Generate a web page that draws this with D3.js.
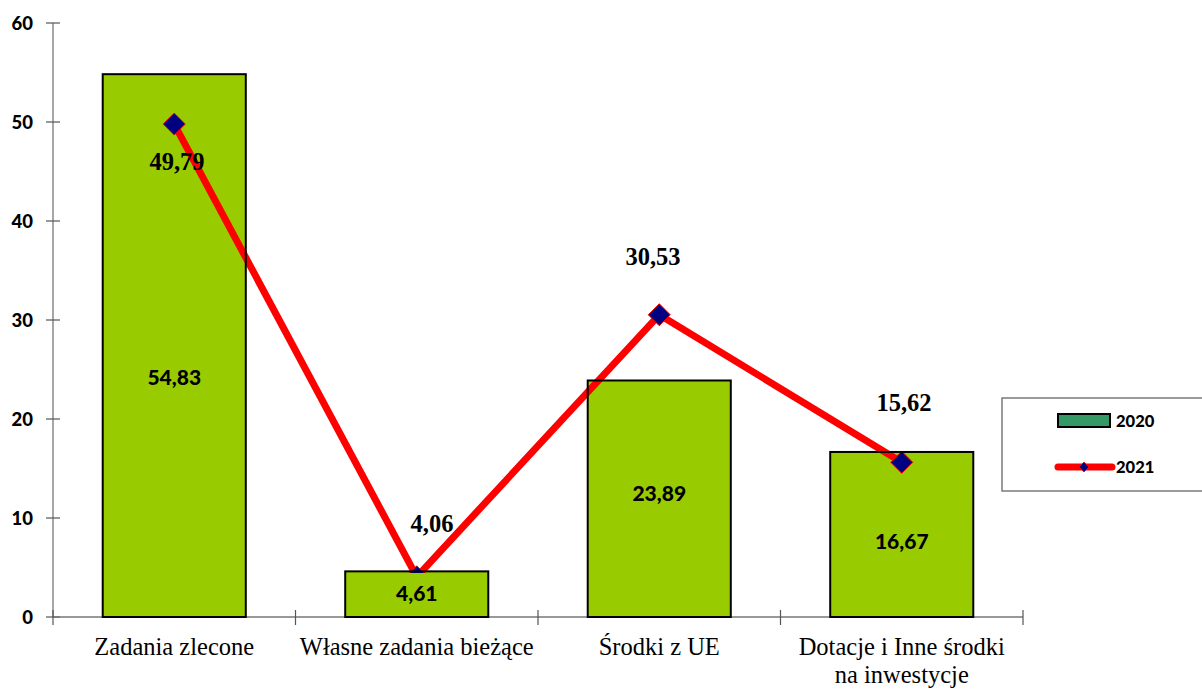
<!DOCTYPE html>
<html><head><meta charset="utf-8">
<script src="https://cdn.jsdelivr.net/npm/d3@7/dist/d3.min.js"></script>
<style>body{margin:0;background:#fff}svg{display:block}</style>
</head><body><svg id="c" width="1202" height="689"></svg>
<script>
const categories = ["Zadania zlecone", "Własne zadania bieżące", "Środki z UE", "Dotacje i Inne środki|na inwestycje"];
const values2020 = [54.83, 4.61, 23.89, 16.67];
const values2021 = [49.79, 4.06, 30.53, 15.62];
const labels2020 = ["54,83", "4,61", "23,89", "16,67"];
const labels2021 = ["49,79", "4,06", "30,53", "15,62"];
const yTicks = [0, 10, 20, 30, 40, 50, 60];
const seriesNames = ["2020", "2021"];

const sans = "Lato, 'Open Sans', sans-serif";
const serif = "'Liberation Serif', 'Times New Roman', serif";

const svg = d3.select("#c");
const x = d3.scaleBand().domain(categories).range([53, 1023]).paddingInner(0.41).paddingOuter(0.205);
const y = d3.scaleLinear().domain([0, 60]).range([617, 23]);

// y axis
svg.append("line").attr("x1",53).attr("x2",53).attr("y1",y(60)).attr("y2",y(0)).attr("stroke","#777").attr("stroke-width",1.3);
svg.selectAll(".yt").data(yTicks).enter().append("line")
  .attr("x1",46).attr("x2",60).attr("y1",d=>y(d)).attr("y2",d=>y(d)).attr("stroke","#555").attr("stroke-width",1.2);
svg.selectAll(".yl").data(yTicks).enter().append("text")
  .attr("x",33).attr("y",d=>y(d)+7).attr("text-anchor","end")
  .attr("font-family",sans).attr("font-weight",900).attr("font-size",18.5)
  .text(d=>d);

// x axis
svg.append("line").attr("x1",53).attr("x2",1023).attr("y1",y(0)).attr("y2",y(0)).attr("stroke","#777").attr("stroke-width",1.3);
const step = x.step();
const bounds = d3.range(categories.length+1).map(i => 53 + i*step);
svg.selectAll(".xt").data(bounds).enter().append("line")
  .attr("x1",d=>d).attr("x2",d=>d).attr("y1",610).attr("y2",625).attr("stroke","#555").attr("stroke-width",1.2);

// bars
const cx = c => x(c) + x.bandwidth()/2;
svg.selectAll(".bar").data(categories).enter().append("rect")
  .attr("x",d=>x(d)).attr("width",x.bandwidth())
  .attr("y",(d,i)=>y(values2020[i])).attr("height",(d,i)=>y(0)-y(values2020[i]))
  .attr("fill","#99cc00");

// line
const line = d3.line().x((d,i)=>cx(categories[i])).y(d=>y(d));
svg.append("path").datum(values2021).attr("d",line).attr("fill","none").attr("stroke","#ff0000").attr("stroke-width",7).attr("stroke-linejoin","round");
svg.selectAll(".mk").data(values2021).enter().append("path")
  .attr("d","M0,-11L11,0L0,11L-11,0Z")
  .attr("transform",(d,i)=>`translate(${cx(categories[i])},${y(d)})`)
  .attr("fill","#000080").attr("stroke","#ff0000").attr("stroke-width",1);

// bar label backgrounds (cover line where overlapping), clipped to bar
const barLabelY = [377, 593, 493, 541];
svg.selectAll(".blbg").data(categories).enter().append("rect")
  .attr("x",d=>x(d)+1).attr("width",x.bandwidth()-2)
  .attr("y",(d,i)=>Math.max(barLabelY[i]-20, y(values2020[i])))
  .attr("height",(d,i)=>Math.min(barLabelY[i]+20, y(0)) - Math.max(barLabelY[i]-20, y(values2020[i])))
  .attr("fill","#99cc00");

// bar outlines
svg.selectAll(".bo").data(categories).enter().append("rect")
  .attr("x",d=>x(d)).attr("width",x.bandwidth())
  .attr("y",(d,i)=>y(values2020[i])).attr("height",(d,i)=>y(0)-y(values2020[i]))
  .attr("fill","none").attr("stroke","#000").attr("stroke-width",2);

svg.selectAll(".bl").data(categories).enter().append("text")
  .attr("x",d=>cx(d)).attr("y",(d,i)=>barLabelY[i]+8).attr("text-anchor","middle")
  .attr("font-family",sans).attr("font-weight",900).attr("font-size",21)
  .text((d,i)=>labels2020[i]);

// line labels
const lineLabelPos = [[177,162],[432,524],[653,257],[904,403]];
svg.selectAll(".ll").data(values2021).enter().append("text")
  .attr("x",(d,i)=>lineLabelPos[i][0]).attr("y",(d,i)=>lineLabelPos[i][1]+8).attr("text-anchor","middle")
  .attr("font-family",serif).attr("font-weight","bold").attr("font-size",24.5)
  .text((d,i)=>labels2021[i]);

// category labels
categories.forEach(c => {
  const parts = c.split("|");
  const t = svg.append("text").attr("text-anchor","middle")
    .attr("font-family",serif).attr("font-size",24.5);
  parts.forEach((p,j) => t.append("tspan").attr("x",cx(c)).attr("y",655 + j*28).text(p));
});

// legend
svg.append("rect").attr("x",1002).attr("y",398).attr("width",210).attr("height",93)
  .attr("fill","#fff").attr("stroke","#666").attr("stroke-width",1.3);
svg.append("rect").attr("x",1058).attr("y",414).attr("width",52).attr("height",13)
  .attr("fill","#339966").attr("stroke","#000").attr("stroke-width",2);
svg.append("line").attr("x1",1058).attr("x2",1112).attr("y1",467).attr("y2",467)
  .attr("stroke","#ff0000").attr("stroke-width",7).attr("stroke-linecap","round");
svg.append("path").attr("d","M0,-5L5,0L0,5L-5,0Z").attr("transform","translate(1084,467)")
  .attr("fill","#000080").attr("stroke","#ff0000").attr("stroke-width",0.8);
svg.selectAll(".lg").data(seriesNames).enter().append("text")
  .attr("x",1116).attr("y",(d,i)=>427 + i*46)
  .attr("font-family",sans).attr("font-weight",900).attr("font-size",16.5)
  .text(d=>d);
</script></body></html>
